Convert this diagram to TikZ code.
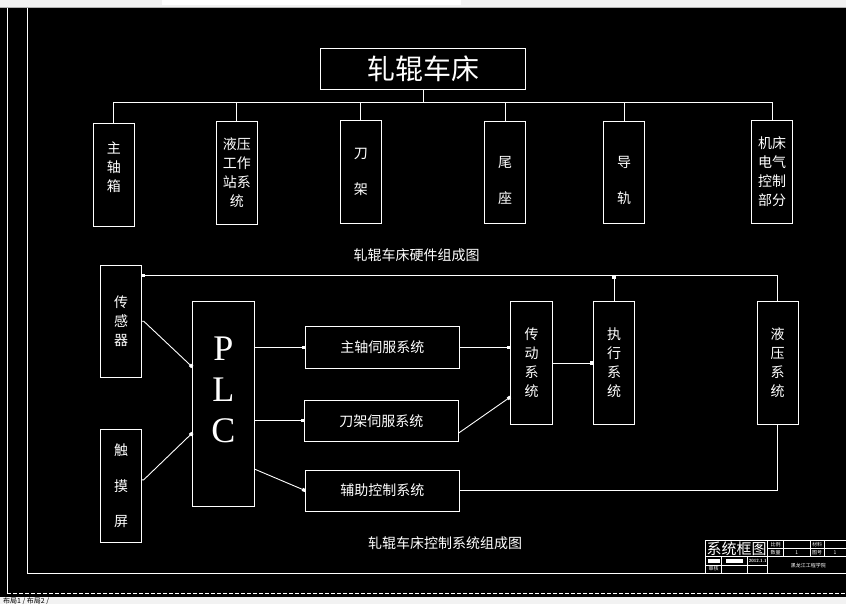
\documentclass[tikz,border=0pt]{standalone}
\usepackage{fontspec}
\setmainfont{Liberation Serif}
\newfontfamily\cjk{Noto Sans CJK SC}
\usetikzlibrary{arrows.meta}

\tikzset{
  part/.style n args={2}{draw=white, line width=0.9pt, inner sep=0pt, outer sep=0pt,
    minimum width=#1, minimum height=#2, text=white, align=center,
    font=\cjk\fontsize{14}{19}\selectfont},
  tall/.style={font=\cjk\fontsize{14}{36}\selectfont},
  txt/.style={text=white, align=center, font=\cjk\fontsize{14}{19}\selectfont},
  link/.style={draw=white, line width=0.9pt},
  sig/.style={link, -{Square[length=3.2pt,width=3.2pt]}},
  cell/.style={draw=white, line width=0.7pt},
  tbtext/.style={text=white, inner sep=0pt, text height=4pt, text depth=0.5pt,
    font=\cjk\fontsize{5}{5}\selectfont}
}

\begin{document}
\begin{tikzpicture}[x=1pt,y=-1pt]
\useasboundingbox (0,0) rectangle (846,604);
% screen and toolbar strips
\fill[black] (0,0) rectangle (846,604);
\fill[gray!10] (0,0) rectangle (846,7);
\fill[white] (162,0) rectangle (461,5);
\draw[gray!60] (0,7.5) -- (846,7.5);
\fill[gray!10] (0,597) rectangle (846,604);
\node[anchor=west, inner sep=0pt, font=\cjk\fontsize{7}{7}\selectfont] (tabs) at (3,601.5) {布局1 / 布局2 /};
% drawing frame
\draw[white, line width=0.8pt] (7,8) -- (7,593);
\draw[white, line width=0.8pt] (27,8) -- (27,573) -- (846,573);
\draw[white, line width=0.8pt, dash pattern=on 4pt off 2pt] (7,593) -- (846,593);

% hardware composition
\node[part={205}{41}, font=\cjk\fontsize{28}{28}\selectfont] (lathe) at (423.2,68.8) {轧辊车床};
\node[part={41}{103}] (spindle) at (113.8,174.8) {};
\node[txt] at ([yshift=8pt]spindle.center) {主\\轴\\箱};
\node[part={41}{103}] (hydst) at (236.8,172.8) {液压\\工作\\站系\\统};
\node[part={41}{103}, tall] (rest) at (360.8,171.8) {刀\\架};
\node[part={41.4}{102}] (tail) at (505,172.3) {};
\node[txt, tall] at ([yshift=-8pt]tail.center) {尾\\座};
\node[part={41.4}{102}] (guide) at (624,172.3) {};
\node[txt, tall] at ([yshift=-8pt]guide.center) {导\\轨};
\node[part={41.4}{103}] (elec) at (772,171.8) {机床\\电气\\控制\\部分};
\coordinate (hwbus) at (0,102.3);
\draw[link] (lathe.south) -- (lathe.south |- hwbus);
\draw[link] (spindle.north |- hwbus) -- (elec.north |- hwbus);
\foreach \b in {spindle,hydst,rest,tail,guide,elec}
  \draw[link] (\b.north |- hwbus) -- (\b.north);
\node[txt] (cap1) at (416.5,255) {轧辊车床硬件组成图};

% control system
\node[part={41.4}{112.3}] (sensor) at (121,321.2) {传\\感\\器};
\node[part={41.4}{113}, font=\cjk\fontsize{14}{35.5}\selectfont] (touch) at (121,485.8) {触\\摸\\屏};
\node[part={62}{205.4}] (plc) at (223.3,404) {};
\node[text=white, align=center, font=\fontsize{36}{41}\selectfont] at ([yshift=14pt]plc.center) {P\\L\\C};
\node[part={154}{42.3}] (spsv) at (382.3,347.2) {主轴伺服系统};
\node[part={154}{41.3}] (tlsv) at (381.3,420.7) {刀架伺服系统};
\node[part={154}{41}] (aux) at (382.3,490.6) {辅助控制系统};
\node[part={42.4}{123.4}] (drive) at (531.5,363) {传\\动\\系\\统};
\node[part={41.4}{123.4}] (exec) at (614,363) {执\\行\\系\\统};
\node[part={41.3}{123.4}] (hyd) at (777.7,363) {液\\压\\系\\统};
\node[txt] (cap2) at (445,542.7) {轧辊车床控制系统组成图};
\coordinate (fbbus) at (0,275.3);
\draw[sig] (sensor.east) -- ++(2,0) -- ([yshift=37pt]plc.west);
\draw[sig] ([yshift=6pt]touch.east) -- ++(2,0) -- ([yshift=-29pt]plc.west);
\draw[sig] (plc.east |- spsv.west) -- (spsv.west);
\draw[sig] (plc.east |- tlsv.west) -- (tlsv.west);
\draw[sig] ([yshift=-65pt]plc.east) -- (aux.west);
\draw[sig] (spsv.east) -- (drive.west |- spsv.east);
\draw[sig] ([yshift=-12.6pt]tlsv.east) -- ([yshift=-34pt]drive.west);
\draw[sig] (drive.east) -- (exec.west);
\draw[sig] (exec.north) -- (exec.north |- fbbus);
\draw[sig] (hyd.north) |- (sensor.east |- fbbus);
\draw[link] (aux.east) -| (hyd.south);

% title block
\draw[cell] (705.3,540.7) -- (846,540.7) (705.3,556.7) -- (846,556.7)
  (767.7,548.3) -- (846,548.3) (705.3,565) -- (767.7,565);
\draw[cell] (705.3,540.7) -- (705.3,573) (767.7,540.7) -- (767.7,573)
  (783.3,540.7) -- (783.3,556.7) (810,540.7) -- (810,556.7) (824,540.7) -- (824,556.7)
  (721.7,556.7) -- (721.7,573) (747.7,556.7) -- (747.7,573);
\node[txt, inner sep=0pt, font=\cjk\fontsize{15}{15}\selectfont] (tbname) at (736.5,548.7) {系统框图};
\node[tbtext] (tbscale) at (775.5,544.4) {比例};
\node[tbtext] (tbmat) at (817,544.4) {材料};
\node[tbtext] (tbqty) at (775.5,552.7) {数量};
\node[tbtext] (tbqtyv) at (796.7,552.7) {1};
\node[tbtext] (tbno) at (817,552.7) {图号};
\node[tbtext] (tbnov) at (835,552.7) {1};
\fill[white] (707.7,559.3) rectangle (720,563.3);
\fill[white] (725.7,559.3) rectangle (742.7,563.3);
\node[tbtext, font=\sffamily\bfseries\fontsize{4.5}{5}\selectfont] (tbdate) at (757.7,561) {2012.1.1};
\node[tbtext] (tbchk) at (713.5,569) {审核};
\node[tbtext] (tbschool) at (808.3,565.3) {黑龙江工程学院};
\end{tikzpicture}
\end{document}
